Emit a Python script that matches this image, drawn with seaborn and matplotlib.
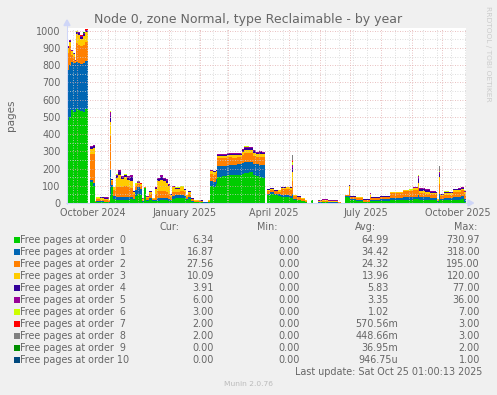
import numpy as np
import pandas as pd
import matplotlib
matplotlib.use("Agg")
import matplotlib.pyplot as plt
import matplotlib.dates as mdates
from matplotlib.patches import Rectangle, Polygon
from matplotlib.lines import Line2D
import seaborn as sns

# ---------------- data ----------------
start_date = "2024-09-21"
span_days = 399.04

day = [0, 1, 2, 4, 6, 8, 9, 11, 13, 16,
       18, 21, 23, 26, 28, 29, 33, 37, 42, 43,
       44, 46, 49, 51, 54, 57, 60, 63, 66, 68,
       70, 73, 75, 77, 79, 82, 85, 88, 90, 93,
       96, 99, 101, 103, 105, 108, 113, 117, 119, 121,
       124, 127, 132, 136, 141, 143, 146, 149, 150, 155,
       160, 165, 170, 175, 177, 182, 186, 189, 192, 195,
       198, 200, 203, 207, 211, 214, 219, 223, 225, 226,
       230, 234, 238, 240, 244, 246, 251, 255, 261, 267,
       271, 274, 278, 282, 283, 289, 296, 303, 304, 313,
       323, 330, 336, 342, 346, 351, 352, 358, 363, 369,
       370, 372, 373, 377, 382, 386, 391, 394, 397, 399]

order0 = [440, 480, 500, 540, 530, 530, 545, 540, 535, 530,
          545, 0, 120, 100, 3, 5, 5, 3, 2, 40,
          95, 25, 20, 20, 20, 20, 20, 25, 15, 40,
          55, 45, 5, 85, 10, 20, 10, 10, 12, 15,
          15, 15, 12, 10, 25, 28, 30, 28, 15, 25,
          8, 5, 3, 2, 5, 100, 95, 110, 150, 155,
          160, 160, 165, 170, 175, 178, 160, 155, 150, 145,
          0, 45, 50, 45, 40, 35, 35, 30, 30, 20,
          15, 10, 5, 0, 15, 0, 2, 3, 2, 2,
          1, 0, 35, 30, 17, 12, 5, 10, 10, 12,
          15, 18, 20, 18, 22, 25, 20, 18, 17, 15,
          5, 20, 15, 18, 17, 20, 20, 22, 6, 6]

order1 = [240, 290, 300, 280, 285, 280, 275, 270, 270, 280,
          280, 0, 15, 15, 3, 8, 5, 5, 5, 150,
          10, 15, 15, 15, 15, 15, 15, 10, 10, 35,
          35, 35, 5, 3, 5, 10, 5, 10, 15, 15,
          12, 12, 10, 8, 15, 18, 18, 15, 10, 10,
          5, 3, 3, 1, 3, 30, 25, 30, 65, 62,
          60, 62, 60, 62, 65, 62, 65, 70, 72, 75,
          0, 10, 12, 10, 10, 10, 10, 8, 20, 5,
          5, 3, 2, 0, 0, 0, 2, 3, 2, 3,
          1, 0, 5, 10, 5, 5, 3, 5, 8, 10,
          12, 12, 14, 14, 15, 20, 15, 15, 12, 12,
          5, 30, 10, 12, 12, 15, 15, 17, 17, 17]

order2 = [60, 100, 110, 40, 35, 10, 110, 110, 105, 110,
          110, 0, 150, 170, 3, 10, 10, 8, 5, 200,
          20, 35, 60, 60, 60, 65, 60, 50, 25, 25,
          20, 20, 10, 3, 15, 25, 10, 30, 45, 40,
          40, 35, 30, 15, 25, 20, 22, 20, 12, 20,
          8, 5, 5, 2, 5, 40, 45, 35, 45, 42,
          45, 40, 40, 48, 50, 48, 45, 40, 45, 45,
          0, 15, 12, 12, 15, 35, 35, 40, 80, 15,
          12, 10, 5, 0, 0, 0, 3, 5, 4, 3,
          2, 0, 5, 40, 10, 12, 8, 20, 10, 10,
          30, 30, 35, 38, 40, 40, 25, 20, 22, 25,
          10, 60, 15, 18, 20, 30, 30, 35, 28, 28]

order3 = [15, 30, 25, 20, 15, 5, 50, 55, 45, 50,
          55, 0, 30, 35, 2, 5, 8, 10, 5, 80,
          10, 15, 50, 70, 45, 50, 40, 45, 15, 10,
          8, 10, 5, 0, 5, 10, 3, 30, 55, 65,
          60, 55, 45, 15, 25, 18, 20, 15, 8, 10,
          5, 3, 3, 2, 3, 15, 15, 12, 15, 15,
          15, 15, 15, 18, 18, 20, 20, 18, 20, 18,
          0, 8, 8, 5, 8, 8, 10, 10, 50, 5,
          5, 5, 3, 0, 0, 0, 3, 5, 3, 3,
          2, 0, 2, 20, 5, 5, 4, 15, 3, 5,
          5, 3, 5, 5, 8, 30, 10, 8, 5, 5,
          3, 40, 5, 8, 7, 8, 8, 10, 10, 10]

order4 = [3, 6, 6, 5, 3, 2, 10, 10, 10, 10,
          10, 0, 10, 10, 1, 2, 4, 5, 2, 35,
          3, 3, 12, 15, 10, 10, 12, 20, 3, 2,
          1, 1, 1, 0, 2, 2, 1, 6, 12, 15,
          12, 12, 9, 3, 5, 3, 3, 3, 2, 2,
          1, 1, 1, 1, 1, 3, 3, 2, 6, 6,
          6, 7, 6, 9, 12, 11, 9, 7, 9, 7,
          0, 3, 3, 2, 2, 3, 2, 2, 25, 1,
          1, 1, 1, 0, 0, 0, 3, 3, 3, 2,
          1, 0, 0, 3, 1, 2, 2, 5, 1, 1,
          2, 1, 2, 2, 3, 25, 12, 14, 8, 5,
          1, 20, 5, 6, 5, 6, 9, 5, 4, 4]

order5 = [2, 4, 4, 3, 2, 1, 5, 5, 5, 5,
          5, 0, 5, 5, 1, 1, 3, 3, 1, 25,
          2, 2, 8, 10, 5, 5, 8, 10, 2, 1,
          1, 1, 1, 0, 1, 1, 1, 4, 8, 10,
          8, 8, 6, 2, 3, 2, 2, 2, 1, 1,
          1, 1, 1, 0, 1, 2, 2, 1, 4, 4,
          4, 5, 4, 6, 8, 7, 6, 5, 6, 5,
          0, 2, 2, 1, 1, 2, 2, 2, 15, 1,
          1, 1, 1, 0, 0, 0, 2, 2, 2, 2,
          1, 0, 0, 2, 1, 1, 1, 3, 1, 1,
          1, 1, 1, 1, 2, 15, 6, 6, 4, 3,
          1, 10, 3, 4, 3, 4, 6, 3, 6, 6]

order6 = [0, 1, 1, 1, 0, 0, 2, 2, 2, 2,
          2, 0, 1, 1, 0, 1, 1, 1, 0, 3,
          0, 0, 1, 2, 1, 1, 1, 1, 0, 1,
          1, 1, 0, 0, 0, 0, 0, 1, 1, 1,
          1, 1, 1, 0, 1, 1, 1, 1, 0, 0,
          0, 0, 0, 0, 0, 1, 1, 1, 1, 1,
          1, 1, 1, 1, 1, 1, 1, 1, 1, 1,
          0, 1, 1, 0, 0, 1, 1, 1, 20, 0,
          0, 0, 0, 0, 0, 0, 1, 1, 1, 1,
          0, 0, 0, 1, 0, 0, 0, 1, 0, 0,
          1, 1, 1, 1, 1, 5, 1, 1, 1, 1,
          0, 5, 1, 1, 1, 1, 1, 1, 3, 3]

order7 = [0, 0, 0, 0, 0, 0, 1, 1, 1, 1,
          1, 0, 1, 1, 0, 0, 0, 0, 0, 1,
          0, 0, 1, 1, 0, 0, 0, 0, 0, 1,
          3, 1, 0, 0, 0, 0, 0, 0, 0, 1,
          0, 0, 0, 0, 0, 0, 0, 0, 0, 0,
          0, 0, 0, 0, 0, 0, 0, 0, 0, 0,
          0, 0, 0, 0, 0, 0, 0, 0, 0, 0,
          0, 0, 0, 0, 0, 0, 0, 0, 10, 0,
          0, 0, 0, 0, 0, 0, 0, 0, 0, 0,
          0, 0, 0, 0, 0, 0, 0, 0, 0, 0,
          0, 0, 0, 0, 0, 2, 0, 0, 0, 0,
          0, 3, 0, 0, 0, 0, 0, 0, 2, 2]

order8 = [0, 0, 0, 0, 0, 0, 1, 1, 1, 1,
          1, 0, 0, 0, 0, 0, 0, 0, 0, 1,
          0, 0, 0, 0, 0, 0, 0, 0, 0, 0,
          1, 0, 0, 0, 0, 0, 0, 0, 0, 0,
          0, 0, 0, 0, 0, 0, 0, 0, 0, 0,
          0, 0, 0, 0, 0, 0, 0, 0, 0, 0,
          0, 0, 0, 0, 0, 0, 0, 0, 0, 0,
          0, 0, 0, 0, 0, 0, 0, 0, 30, 0,
          0, 0, 0, 0, 0, 0, 0, 0, 0, 0,
          0, 0, 0, 0, 0, 0, 0, 0, 0, 0,
          0, 0, 0, 0, 0, 3, 0, 0, 0, 0,
          0, 25, 0, 0, 0, 0, 0, 0, 2, 2]

order9 = [0, 0, 0, 0, 0, 0, 2, 1, 1, 1,
          1] + [0] * 109

order10 = [0, 0, 0, 0, 0, 0, 0, 0, 1, 0] + [0] * 110

labels = ["Free pages at order  0", "Free pages at order  1", "Free pages at order  2",
          "Free pages at order  3", "Free pages at order  4", "Free pages at order  5",
          "Free pages at order  6", "Free pages at order  7", "Free pages at order  8",
          "Free pages at order  9", "Free pages at order 10"]
colors = ["#00CC00", "#0066B3", "#FF8000", "#FFCC00", "#330099", "#990099",
          "#CCFF00", "#FF0000", "#808080", "#008F00", "#00487D"]
cur_vals = [6.34, 16.87, 27.56, 10.09, 3.91, 6.00, 3.00, 2.00, 2.00, 0.00, 0.00]
min_vals = [0.00, 0.00, 0.00, 0.00, 0.00, 0.00, 0.00, 0.00, 0.00, 0.00, 0.00]
avg_vals = [64.99, 34.42, 24.32, 13.96, 5.83, 3.35, 1.02, 0.57056, 0.44866, 0.03695, 0.00094675]
max_vals = [730.97, 318.00, 195.00, 120.00, 77.00, 36.00, 7.00, 3.00, 3.00, 2.00, 1.00]

month_labels = ["October 2024", "January 2025", "April 2025", "July 2025", "October 2025"]
month_label_at = ["2024-10-16 12:00", "2025-01-16 12:00", "2025-04-16", "2025-07-16 12:00", "2025-10-16 12:00"]

title = "Node 0, zone Normal, type Reclaimable - by year"
ylabel = "pages"
last_update = "Last update: Sat Oct 25 01:00:13 2025"
footer = "Munin 2.0.76"
watermark = "RRDTOOL / TOBI OETIKER"

series = [order0, order1, order2, order3, order4, order5, order6,
          order7, order8, order9, order10]
for s in series:
    assert len(s) == len(day), len(s)

# ---------------- style ----------------
sns.set_theme(style="white")
plt.rcParams["font.family"] = ["DejaVu Sans"]
TXT = "#666666"
MGRID = "#E2AAAA"
GRID = "#D2D2D2"
AXIS = "#CFD6F8"
W, H = 497, 395


def px(x, y):
    return x / W, 1 - y / H


fig = plt.figure(figsize=(W / 100, H / 100), dpi=100, facecolor="#F0F0F0")
ax_l, ax_b = px(67, 203)
ax = fig.add_axes([ax_l, ax_b, 399 / W, 175 / H], facecolor="white")

x0 = mdates.date2num(pd.Timestamp(start_date))
df = pd.DataFrame({"x": x0 + np.array(day, dtype=float)})
for i, s in enumerate(series):
    df[labels[i]] = s

cum = np.cumsum(np.array(series, dtype=float), axis=0)
pal = sns.color_palette(colors)
# draw tallest cumulative first so layers don't leave seams
for i in range(len(series) - 1, -1, -1):
    ax.fill_between(df["x"], 0, cum[i], step="post", color=pal[i],
                    linewidth=0, zorder=1)

ax.set_xlim(x0, x0 + span_days)
ax.set_ylim(0, 1016)

ax.set_yticks(np.arange(0, 1001, 100))
ax.set_yticks(np.arange(50, 1000, 100), minor=True)
month_starts = mdates.date2num(pd.date_range("2024-10-01", "2025-10-01", freq="MS"))
ax.set_xticks(month_starts)
ax.set_xticks(x0 + np.arange(6, 399, 14), minor=True)
ax.set_xticklabels([])

ax.set_axisbelow(False)
ax.grid(which="major", color=MGRID, linestyle=(0, (1, 2)), linewidth=0.6)
ax.grid(which="minor", color=GRID, linestyle=(0, (1, 2)), linewidth=0.6)

ax.tick_params(axis="y", which="major", direction="inout", length=3, width=0.7,
               color="#B0B0B0", labelsize=6.9, labelcolor=TXT, pad=3.2)
ax.tick_params(axis="y", which="minor", direction="inout", length=2, width=0.7,
               color=GRID)
ax.tick_params(axis="x", which="major", direction="inout", length=3, width=0.7,
               color=MGRID, labelbottom=False)
ax.tick_params(axis="x", which="minor", direction="inout", length=2, width=0.7,
               color=GRID)
for sp in ax.spines.values():
    sp.set_visible(False)

for lab, at in zip(month_labels, month_label_at):
    ax.text(mdates.date2num(pd.Timestamp(at)), -0.0554, lab,
            transform=ax.get_xaxis_transform(), ha="center", va="center",
            fontsize=6.9, color=TXT, clip_on=False)

# axes lines with arrows
lw = 0.75
fig.add_artist(Line2D([px(66, 0)[0], px(469, 0)[0]], [px(0, 203)[1]] * 2,
                      color=AXIS, linewidth=lw, transform=fig.transFigure))
fig.add_artist(Line2D([px(67, 0)[0]] * 2, [px(0, 204)[1], px(0, 25)[1]],
                      color=AXIS, linewidth=lw, transform=fig.transFigure))
fig.add_artist(Polygon([px(473.5, 203), px(468, 200), px(468, 206)], closed=True,
                       color=AXIS, transform=fig.transFigure))
fig.add_artist(Polygon([px(67, 20), px(64, 25.5), px(70, 25.5)], closed=True,
                       color=AXIS, transform=fig.transFigure))

# texts
fig.text(*px(248.5, 19), title, ha="center", va="center", fontsize=9, color=TXT)
fig.text(*px(11, 115.5), ylabel, ha="center", va="center", rotation=90,
         fontsize=7.5, color=TXT)
fig.text(*px(488, 53.5), watermark, ha="center", va="center", rotation=270,
         fontsize=5.4, color="#CCCCCC")
fig.text(*px(248, 384.5), footer, ha="center", va="center", fontsize=5.4,
         color="#BBBBBB")
fig.text(*px(482.7, 372), last_update, ha="right", va="center", fontsize=6.9,
         color=TXT)

# legend / stats table
hy = 227.5
for name, xr in (("Cur:", 180), ("Min:", 278), ("Avg:", 376), ("Max:", 477)):
    fig.text(*px(xr, hy), name, ha="right", va="center", fontsize=6.9, color=TXT)


def si(v):
    if v == 0 or v >= 1:
        return f"{v:.2f}"
    if v >= 1e-3:
        return f"{v * 1e3:.2f}m"
    return f"{v * 1e6:.2f}u"


for i in range(len(labels)):
    yc = 240.3 + 11.95 * i
    r = Rectangle(px(14, yc + 3), 6 / W, 6 / H, transform=fig.transFigure,
                  facecolor=colors[i], edgecolor="none")
    fig.patches.append(r)
    fig.text(*px(20.5, yc), labels[i], ha="left", va="center", fontsize=6.9, color=TXT)
    fig.text(*px(214, yc), f"{cur_vals[i]:.2f}", ha="right", va="center",
             fontsize=6.9, color=TXT)
    fig.text(*px(300, yc), f"{min_vals[i]:.2f}", ha="right", va="center",
             fontsize=6.9, color=TXT)
    txt = si(avg_vals[i])
    fig.text(*px(398 if txt[-1] in "mu" else 389, yc), txt, ha="right", va="center",
             fontsize=6.9, color=TXT)
    fig.text(*px(480, yc), f"{max_vals[i]:.2f}", ha="right", va="center",
             fontsize=6.9, color=TXT)

fig.savefig("out.png", dpi=100, facecolor=fig.get_facecolor())
